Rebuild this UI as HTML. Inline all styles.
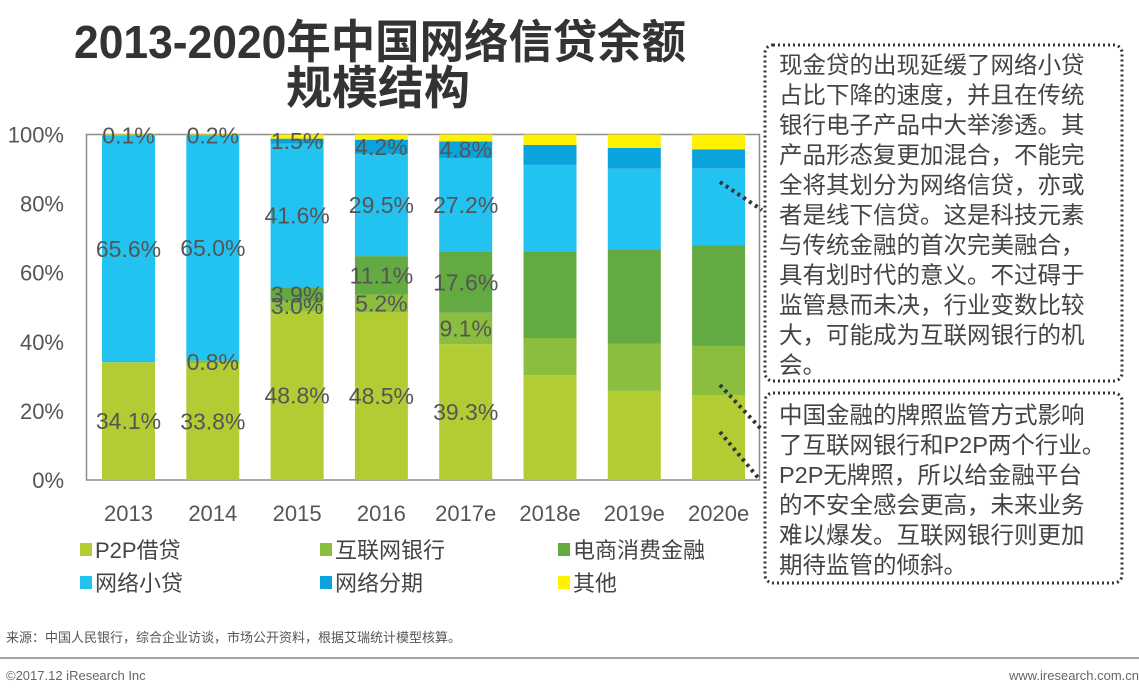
<!DOCTYPE html>
<html><head><meta charset="utf-8"><style>
body{margin:0;background:#fff;}
svg{display:block;font-family:"Liberation Sans","Noto Sans CJK SC",sans-serif;}
</style></head><body>
<svg id="c" width="1139" height="688" viewBox="0 0 1139 688">
<text x="380" y="58" text-anchor="middle" font-size="46" font-weight="bold" fill="#333" textLength="612" lengthAdjust="spacingAndGlyphs">2013-2020年中国网络信贷余额</text>
<text x="378" y="104" text-anchor="middle" font-size="46" font-weight="bold" fill="#333">规模结构</text>
<rect x="86.5" y="134.5" width="673" height="345.5" fill="none" stroke="#8c8c8c" stroke-width="1.5"/>
<g id="bars"></g><g id="labels"></g><g id="axes"></g>
<g>
<rect x="765" y="45" width="357" height="336" rx="8" fill="none" stroke="#333" stroke-width="3" stroke-dasharray="2 3"/>
<text font-size="23.5" fill="#444">
<tspan x="779" y="73">现金贷的出现延缓了网络小贷</tspan><tspan x="779" y="103">占比下降的速度，并且在传统</tspan><tspan x="779" y="133">银行电子产品中大举渗透。其</tspan><tspan x="779" y="163">产品形态复更加混合，不能完</tspan><tspan x="779" y="193">全将其划分为网络信贷，亦或</tspan><tspan x="779" y="223">者是线下信贷。这是科技元素</tspan><tspan x="779" y="253">与传统金融的首次完美融合，</tspan><tspan x="779" y="283">具有划时代的意义。不过碍于</tspan><tspan x="779" y="313">监管悬而未决，行业变数比较</tspan><tspan x="779" y="343">大，可能成为互联网银行的机</tspan><tspan x="779" y="373">会。</tspan></text>
</g>
<g>
<rect x="765" y="393" width="357" height="190" rx="8" fill="none" stroke="#333" stroke-width="3" stroke-dasharray="2 3"/>
<text font-size="23.5" fill="#444">
<tspan x="779" y="423">中国金融的牌照监管方式影响</tspan><tspan x="779" y="453">了互联网银行和P2P两个行业。</tspan><tspan x="779" y="483">P2P无牌照，所以给金融平台</tspan><tspan x="779" y="513">的不安全感会更高，未来业务</tspan><tspan x="779" y="543">难以爆发。互联网银行则更加</tspan><tspan x="779" y="573">期待监管的倾斜。</tspan></text>
</g>
<g stroke="#333" stroke-width="4" stroke-dasharray="3 4">
<line x1="720" y1="182" x2="762" y2="210"/>
<line x1="720" y1="385" x2="762" y2="430"/>
<line x1="720" y1="432" x2="760" y2="480"/>
</g>
<g id="legend"></g>
<text x="6" y="642" font-size="13" fill="#555">来源：中国人民银行，综合企业访谈，市场公开资料，根据艾瑞统计模型核算。</text>
<line x1="0" y1="658" x2="1139" y2="658" stroke="#888" stroke-width="1.5"/>
<text x="6" y="680" font-size="13" fill="#666">©2017.12 iResearch Inc</text>
<text x="1139" y="680" font-size="13" fill="#666" text-anchor="end">www.iresearch.com.cn</text>
</svg>
<script>
const categories = ["2013","2014","2015","2016","2017e","2018e","2019e","2020e"];
const seriesNames = ["P2P借贷","互联网银行","电商消费金融","网络小贷","网络分期","其他"];
const p2p      = [34.1,33.8,48.8,48.5,39.3,30.3,25.8,24.5];
const netBank  = [0,0.8,3.0,5.2,9.1,10.8,13.7,14.3];
const ecom     = [0,0,3.9,11.1,17.6,24.9,27.2,29.2];
const microLoan= [65.6,65.0,41.6,29.5,27.2,25.2,23.4,22.2];
const install  = [0.1,0.2,1.5,4.2,4.8,5.8,6.0,5.5];
const other    = [0.2,0.2,1.2,1.5,2.0,3.0,3.9,4.3];
const showLabels = [true,true,true,true,true,false,false,false];
const yTicks = [0,20,40,60,80,100];
const colors = ["#B2CD34","#8BBE3F","#63AA43","#22C3F0","#0AA3DB","#FFF200"];
const series = [p2p,netBank,ecom,microLoan,install,other];
const NS="http://www.w3.org/2000/svg";
const y0=480,y1=134.5;
const yScale=v=>y0-(v/100)*(y0-y1);
const xCenter=i=>128.5+i*84.3;
const bw=53;
const gB=document.getElementById('bars'),gL=document.getElementById('labels'),gA=document.getElementById('axes'),gG=document.getElementById('legend');
function mk(t,a,p){const e=document.createElementNS(NS,t);for(const k in a)e.setAttribute(k,a[k]);p.appendChild(e);return e;}
categories.forEach((c,i)=>{
  let cum=0;
  series.forEach((s,k)=>{
    const v=s[i];
    const r=mk('rect',{x:xCenter(i)-bw/2,y:yScale(cum+v),width:bw,height:yScale(cum)-yScale(cum+v),fill:colors[k]},gB);
    
    
    if(showLabels[i]&&v>0&&k<5){
      const t=mk('text',{x:xCenter(i),y:(yScale(cum)+yScale(cum+v))/2+8,'text-anchor':'middle','font-size':23,fill:'#555'},gL);
      t.textContent=v.toFixed(1)+'%';
      
      
    }
    cum+=v;
  });
  const xl=mk('text',{x:xCenter(i),y:521,'text-anchor':'middle','font-size':22,fill:'#555'},gA);
  xl.textContent=c;
  
  
});
yTicks.forEach(v=>{
  const t=mk('text',{x:64,y:yScale(v)+8,'text-anchor':'end','font-size':22,fill:'#555'},gA);
  t.textContent=v+'%';
  
  
});
const lx=[80,320,558],ly=[550,583];
seriesNames.forEach((n,k)=>{
  const x=lx[k%3],y=ly[Math.floor(k/3)];
  const g=mk('g',{},gG);
  
  
  mk('rect',{x:x,y:y-7,width:12,height:13,fill:colors[k]},g);
  const t=mk('text',{x:x+15,y:y+8,'font-size':22,fill:'#444'},g);
  t.textContent=n;
});
</script>
</body></html>
